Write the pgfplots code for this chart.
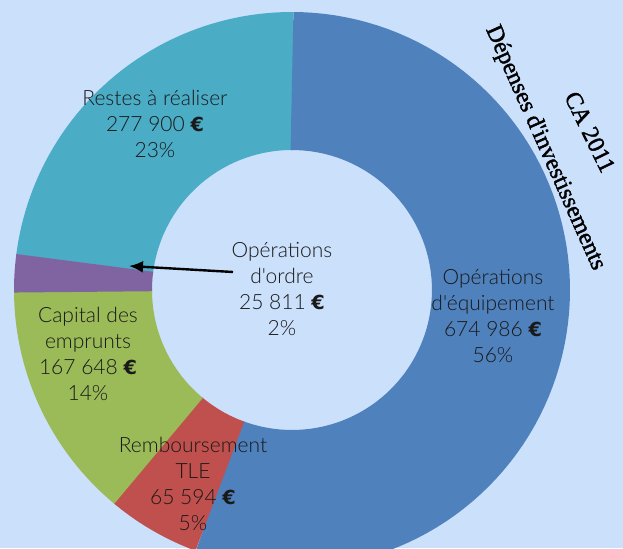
\documentclass[border=0pt]{standalone}
\usepackage{pgfplots}
\pgfplotsset{compat=1.18}
\usepackage{pgfplotstable}
\usepackage{fontspec}
\setmainfont{Lato}
\newfontfamily\labfont{Lato}[UprightFont=* Light]
\newfontfamily\eurofont{DejaVu Sans}[Scale=0.92]
\newfontfamily\titlefont{Liberation Serif}[FakeBold=1.6]
\usetikzlibrary{arrows.meta}

\definecolor{bg}{HTML}{CBE0FB}
\definecolor{cA}{HTML}{4F81BD}
\definecolor{cB}{HTML}{C0504D}
\definecolor{cC}{HTML}{9BBB59}
\definecolor{cD}{HTML}{8064A2}
\definecolor{cE}{HTML}{4BACC6}

% montants en euros, dans le sens horaire depuis midi
\pgfplotstableread{
poste value
equipement 674986
tle 65594
capital 167648
ordre 25811
restes 277900
}\data

\pgfplotstablegetelem{0}{value}\of\data \let\vA\pgfplotsretval
\pgfplotstablegetelem{1}{value}\of\data \let\vB\pgfplotsretval
\pgfplotstablegetelem{2}{value}\of\data \let\vC\pgfplotsretval
\pgfplotstablegetelem{3}{value}\of\data \let\vD\pgfplotsretval
\pgfplotstablegetelem{4}{value}\of\data \let\vE\pgfplotsretval
\edef\tot{\fpeval{\vA+\vB+\vC+\vD+\vE}}
\edef\aA{\fpeval{round(360*\vA/\tot,3)}}
\edef\aB{\fpeval{round(360*(\vA+\vB)/\tot,3)}}
\edef\aC{\fpeval{round(360*(\vA+\vB+\vC)/\tot,3)}}
\edef\aD{\fpeval{round(360*(\vA+\vB+\vC+\vD)/\tot,3)}}
% petit recouvrement pour eviter les joints clairs
\edef\sB{\fpeval{\aA-0.3}}
\edef\sC{\fpeval{\aB-0.3}}
\edef\sD{\fpeval{\aC-0.3}}
\edef\sE{\fpeval{\aD-0.3}}

\newcommand\eur{{\eurofont\bfseries €}}

\begin{document}
\begin{tikzpicture}
\useasboundingbox (0,0) rectangle (311.5pt,274pt);
\begin{axis}[
    at={(0,0)}, anchor=origin,
    x=0.5pt, y=0.5pt,
    xmin=0, xmax=623, ymin=0, ymax=548,
    hide axis,
    clip=true,
    samples=90,
    variable=\t,
    every axis plot/.append style={line width=69pt, line cap=butt, line join=round},
]
\fill[bg] (axis cs:0,0) rectangle (axis cs:623,548);
\addplot[draw=cE, domain=\sE:360.3] ({292+209*sin(\t)},{258+209*cos(\t)});
\addplot[draw=cA, domain=0:\aA] ({292+209*sin(\t)},{258+209*cos(\t)});
\addplot[draw=cB, domain=\sB:\aB] ({292+209*sin(\t)},{258+209*cos(\t)});
\addplot[draw=cC, domain=\sC:\aC] ({292+209*sin(\t)},{258+209*cos(\t)});
\addplot[draw=cD, domain=\sD:\aD, samples=20] ({292+209*sin(\t)},{258+209*cos(\t)});

\tikzset{lab/.style={align=center, font=\labfont\fontsize{10.5}{13}\selectfont, text=black!90}}
\node[lab] at (axis cs:155,424) {Restes à réaliser\\277 900 \eur\\23\%};
\node[lab] at (axis cs:493,232) {Opérations\\d'équipement\\674 986 \eur\\56\%};
\node[lab] at (axis cs:282,259) {Opérations\\d'ordre\\25 811 \eur\\2\%};
\node[lab] at (axis cs:88,194) {Capital des\\emprunts\\167 648 \eur\\14\%};
\node[lab] at (axis cs:193,64) {Remboursement\\TLE\\65 594 \eur\\5\%};
\draw[line width=1.2pt, -{Latex[length=7pt,width=6pt]}] (axis cs:233,276) -- (axis cs:129,282);

\node[rotate=-66, font=\titlefont\fontsize{12}{14}\selectfont] at (axis cs:545,400) {Dépenses d'investissements};
\node[rotate=-64, font=\titlefont\fontsize{12}{14}\selectfont] at (axis cs:590,416) {CA 2011};
\end{axis}
\end{tikzpicture}
\end{document}
